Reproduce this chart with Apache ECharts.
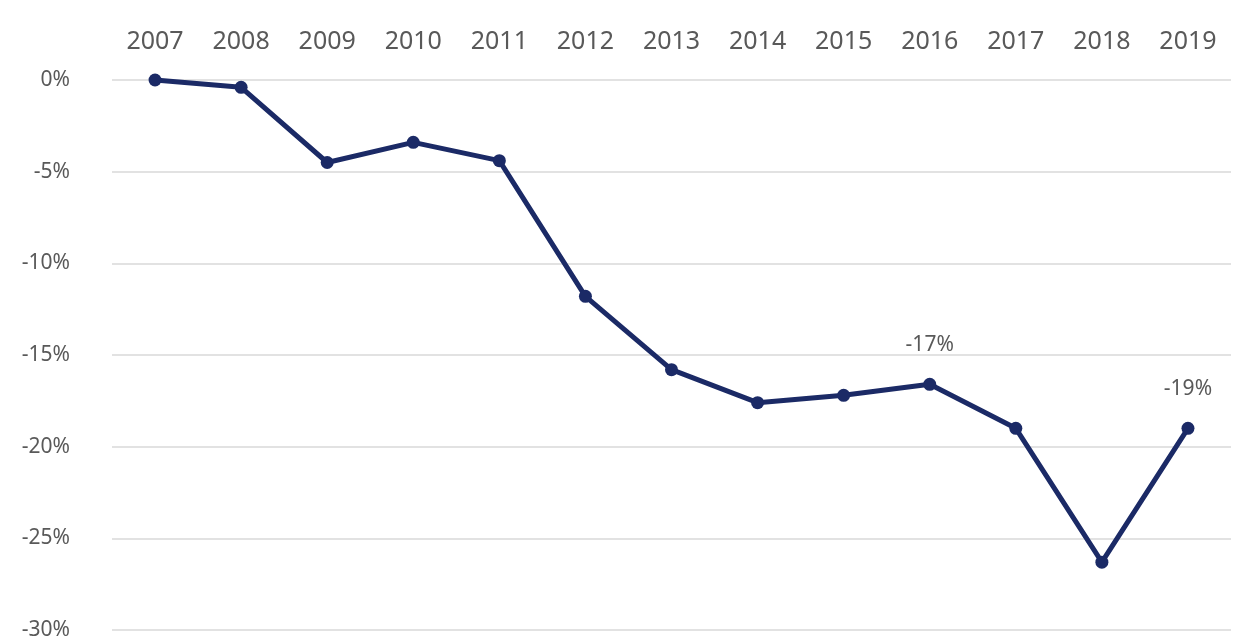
<!DOCTYPE html>
<html>
<head>
<meta charset="utf-8">
<script src="https://cdn.jsdelivr.net/npm/echarts@6/dist/echarts.min.js"></script>
<style>
html,body{margin:0;padding:0;background:#fff;}
#c{width:1238px;height:643px;}
</style>
</head>
<body>
<div id="c"></div>
<script>
const years = ['2007','2008','2009','2010','2011','2012','2013','2014','2015','2016','2017','2018','2019'];
const change = [0, -0.4, -4.5, -3.4, -4.4, -11.8, -15.8, -17.6, -17.2, -16.6, -19.0, -26.3, -19.0];
const labeledYears = ['2016','2019'];
const yTicks = [0, -5, -10, -15, -20, -25, -30];

const chart = echarts.init(document.getElementById('c'));
const font = '"Noto Sans", "Open Sans", sans-serif';
chart.setOption({
  animation: false,
  grid: {left: 112, right: 7, top: 80, bottom: 13},
  xAxis: {
    type: 'category',
    position: 'top',
    data: years,
    boundaryGap: true,
    axisLine: {show: false},
    axisTick: {show: false},
    axisLabel: {color: '#595959', fontSize: 25, fontFamily: font, margin: 26}
  },
  yAxis: {
    type: 'value',
    min: yTicks[yTicks.length - 1],
    max: yTicks[0],
    interval: 5,
    axisLine: {show: false},
    axisTick: {show: false},
    axisLabel: {color: '#595959', fontSize: 21, fontFamily: font, margin: 42,
      formatter: v => v + '%'},
    splitLine: {lineStyle: {color: '#d9d9d9', width: 1.5}}
  },
  series: [{
    type: 'line',
    data: change.map((v, i) => ({
      value: v,
      label: {show: labeledYears.includes(years[i])}
    })),
    symbol: 'circle',
    symbolSize: 13,
    lineStyle: {color: '#1b2a66', width: 5},
    itemStyle: {color: '#1b2a66'},
    label: {
      position: 'top',
      distance: 22,
      color: '#595959',
      fontSize: 21,
      fontFamily: font,
      formatter: p => Math.round(p.value) + '%'
    }
  }]
});
</script>
</body>
</html>
